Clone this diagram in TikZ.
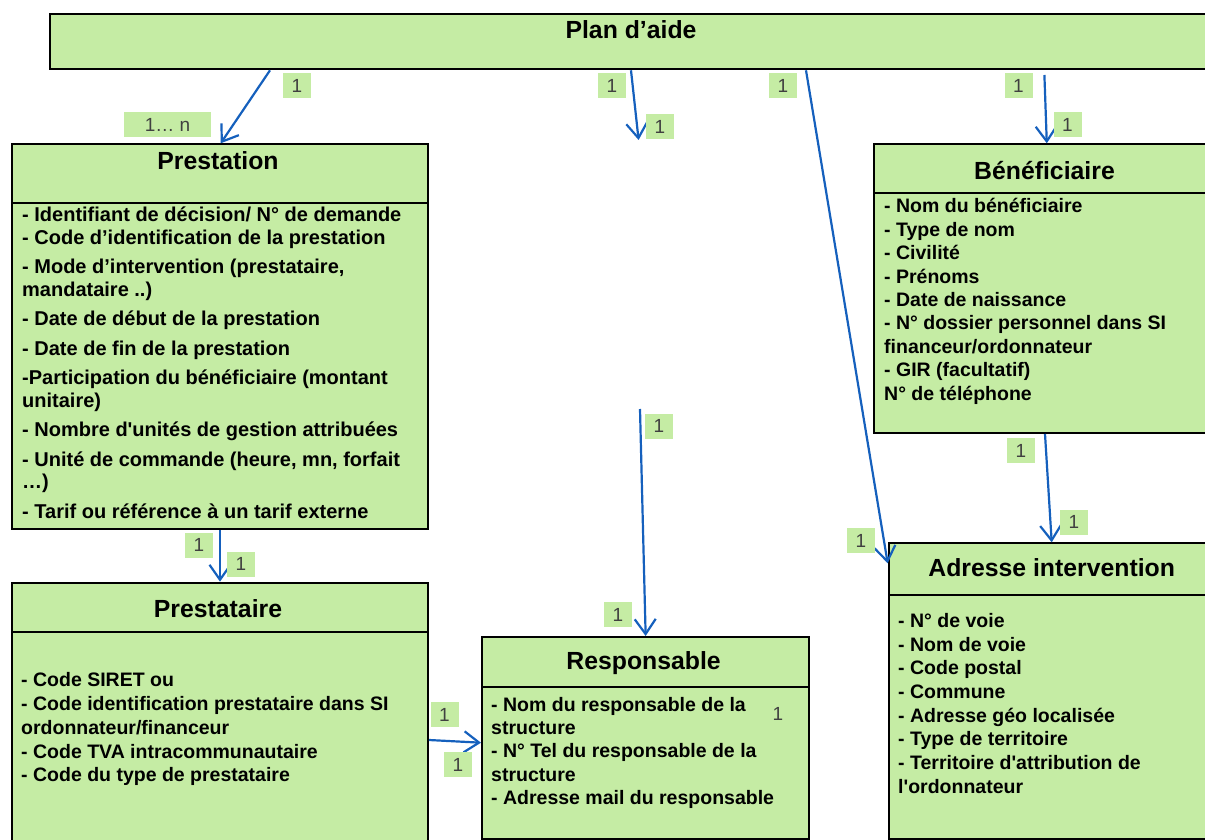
\documentclass[tikz,border=0pt]{standalone}
\usepackage{fontspec}
\setmainfont{Liberation Sans}
\usetikzlibrary{arrows.meta}
\definecolor{boxgreen}{RGB}{197,236,164}
\definecolor{linkblue}{RGB}{21,96,189}
\definecolor{labgray}{RGB}{64,64,64}

\begin{document}
\begin{tikzpicture}[x=1pt, y=-1pt,
    cls/.style={draw, fill=boxgreen, line width=2pt, inner sep=0pt, anchor=north west},
    ttl/.style={anchor=base, inner sep=0pt, font=\bfseries\fontsize{24.8}{28}\selectfont},
    attr/.style={anchor=base west, align=left, inner sep=0pt, font=\bfseries\fontsize{19.5}{23.5}\selectfont},
    card/.style={fill=boxgreen, text=labgray, inner sep=0pt, minimum width=28pt, minimum height=25pt, font=\fontsize{19}{19}\selectfont},
    >={Straight Barb[length=15pt,width=21pt]},
    link/.style={->, draw=linkblue, line width=2.2pt}]

    \useasboundingbox (0,0) rectangle (1205,840);
    \clip (0,0) rectangle (1205,840);

    % classes (attribute lists sit on the baseline of their last line)
    \node[cls, minimum width=1170pt, minimum height=55pt] (plan) at (49,13.3) {};
    \node[ttl] (planT) at (631,38.3) {Plan d’aide};

    \node[cls, minimum width=416pt, minimum height=58.4pt] (prest) at (11,143.3) {};
    \node[cls, minimum width=416pt, minimum height=326.3pt] (prestB) at (11,201.7) {};
    \node[ttl] (prestT) at (218,169) {Prestation};
    \node[attr, font=\bfseries\fontsize{20}{22.5}\selectfont] (prestL) at (22,518) {- Identifiant de décision/ N° de demande\\
      - Code d’identification de la prestation\\[7pt]
      - Mode d’intervention (prestataire,\\
      mandataire ..)\\[7pt]
      - Date de début de la prestation\\[7pt]
      - Date de fin de la prestation\\[7pt]
      -Participation du bénéficiaire (montant\\
      unitaire)\\[7pt]
      - Nombre d\textquotesingle unités de gestion attribuées\\[7pt]
      - Unité de commande (heure, mn, forfait\\
      …)\\[7pt]
      - Tarif ou référence à un tarif externe};

    \node[cls, minimum width=416pt, minimum height=49.3pt] (presta) at (11,581.7) {};
    \node[cls, minimum width=416pt, minimum height=240pt] (prestaB) at (11,631) {};
    \node[ttl] (prestaT) at (218,617.7) {Prestataire};
    \node[attr, font=\bfseries\fontsize{19.5}{23.7}\selectfont] (prestaL) at (21,781.7) {- Code SIRET ou\\
      - Code identification prestataire dans SI\\
      ordonnateur/financeur\\
      - Code TVA intracommunautaire\\
      - Code du type de prestataire};

    \node[cls, minimum width=327.3pt, minimum height=49.7pt] (resp) at (481,636) {};
    \node[cls, minimum width=327.3pt, minimum height=152.6pt] (respB) at (481,685.7) {};
    \node[ttl] (respT) at (643.6,669) {Responsable};
    \node[attr, font=\bfseries\fontsize{19.5}{23.2}\selectfont] (respL) at (491,804.3) {- Nom du responsable de la\\
      structure\\
      - N° Tel du responsable de la\\
      structure\\
      - Adresse mail du responsable};

    \node[cls, minimum width=345pt, minimum height=48.4pt] (benef) at (873.3,143.3) {};
    \node[cls, minimum width=345pt, minimum height=240.3pt] (benefB) at (873.3,191.7) {};
    \node[ttl] (benefT) at (1044.5,179.3) {Bénéficiaire};
    \node[attr, font=\bfseries\fontsize{19.5}{23.4}\selectfont] (benefL) at (884,400) {- Nom du bénéficiaire\\
      - Type de nom\\
      - Civilité\\
      - Prénoms\\
      - Date de naissance\\
      - N° dossier personnel dans SI\\
      financeur/ordonnateur\\
      - GIR (facultatif)\\
      N° de téléphone};

    \node[cls, minimum width=330pt, minimum height=51.7pt] (adr) at (887.7,542.3) {};
    \node[cls, minimum width=330pt, minimum height=244.3pt] (adrB) at (887.7,594) {};
    \node[ttl] (adrT) at (1051.7,576) {Adresse intervention};
    \node[attr, font=\bfseries\fontsize{19.5}{23.7}\selectfont] (adrL) at (898,793.3) {- N° de voie\\
      - Nom de voie\\
      - Code postal\\
      - Commune\\
      - Adresse géo localisée\\
      - Type de territoire\\
      - Territoire d\textquotesingle attribution de\\
      l\textquotesingle ordonnateur};

    % free ends
    \coordinate (c2) at (638.6,140);
    \coordinate (c4) at (1044.4,75);
    \coordinate (c7) at (640,409);

    % links
    \draw[link] ([xshift=221pt]plan.south west) to ([xshift=209.7pt]prest.north west);
    \draw[link] ([xshift=582pt]plan.south west) to (c2);
    \draw[link] ([xshift=757pt]plan.south west) to ([yshift=-21pt]adr.north west);
    \draw[link] (c4) to (benef.north);
    \draw[link] ([xshift=171.7pt]benefB.south west) to ([xshift=164pt]adr.north west);
    \draw[link] (prestB.south) to (presta.north);
    \draw[link] (c7) to (resp.north);
    \draw[link] ([yshift=-109pt]prestaB.north east) to ([yshift=-57pt]respB.north west);

    % cardinalities
    \node[card] (m1) at (297,85.5) {1};
    \node[card, minimum width=87pt] (mn) at (167.5,124.5) {1… n};
    \node[card] (m2) at (612,85.5) {1};
    \node[card] (m3) at (660,127) {1};
    \node[card] (m4) at (783,85.5) {1};
    \node[card] (m5) at (1018.5,85.5) {1};
    \node[card] (m6) at (1067.5,124.5) {1};
    \node[card] (m7) at (1021,450.5) {1};
    \node[card] (m8) at (1074,522) {1};
    \node[card] (m9) at (861,540.5) {1};
    \node[card] (m10) at (659,426) {1};
    \node[card] (m11) at (618,614.5) {1};
    \node[card] (m12) at (199,545) {1};
    \node[card] (m13) at (241,564) {1};
    \node[card] (m14) at (444.5,714.5) {1};
    \node[card] (m15) at (458,764.5) {1};
    \node[text=labgray, font=\fontsize{19}{19}\selectfont] (m16) at (778,714) {1};

\end{tikzpicture}
\end{document}
